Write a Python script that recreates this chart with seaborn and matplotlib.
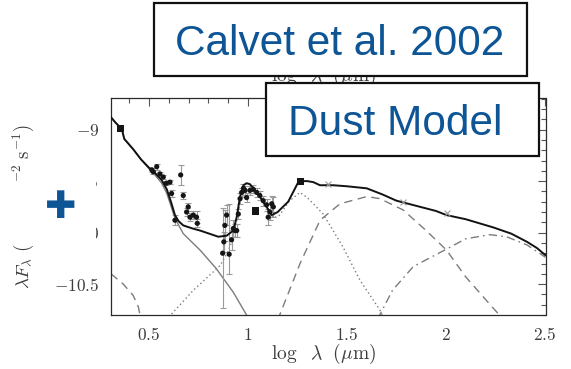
import matplotlib
matplotlib.use("Agg")
import matplotlib.pyplot as plt
import matplotlib.ticker as mticker
from matplotlib.patches import Rectangle
from matplotlib.transforms import Bbox
import numpy as np
import pandas as pd
import seaborn as sns

# ---- model curves: log lambda (um) vs log lambda*F_lambda ----
total_x = [0.308, 0.33, 0.345, 0.358, 0.366, 0.375, 0.42, 0.46, 0.50, 0.53, 0.564, 0.59,
           0.614, 0.631, 0.65, 0.673, 0.72, 0.758, 0.85, 0.892, 0.926, 0.943, 0.96, 0.977,
           0.993, 1.01, 1.027, 1.06, 1.094, 1.12, 1.15, 1.203, 1.23, 1.254, 1.268, 1.30,
           1.33, 1.364, 1.43, 1.50, 1.60, 1.68, 1.75, 1.85, 1.95, 2.003, 2.10, 2.24, 2.33,
           2.41, 2.46, 2.503]
total_y = [-8.88, -8.93, -8.96, -8.99, -9.02, -9.09, -9.19, -9.29, -9.37, -9.42, -9.49, -9.58,
           -9.72, -9.83, -9.89, -9.93, -9.96, -9.98, -10.04, -10.03, -9.98, -9.85, -9.65, -9.54,
           -9.52, -9.53, -9.57, -9.65, -9.75, -9.83, -9.80, -9.70, -9.60, -9.51, -9.50, -9.50,
           -9.51, -9.54, -9.54, -9.55, -9.57, -9.63, -9.69, -9.74, -9.79, -9.83, -9.87, -9.95,
           -10.01, -10.09, -10.15, -10.22]

star_x = [0.308, 0.33, 0.345, 0.358, 0.366, 0.375, 0.42, 0.46, 0.50, 0.53, 0.564, 0.59,
          0.614, 0.631, 0.673, 0.758, 0.84, 0.926, 0.993, 1.005]
star_y = [-8.88, -8.93, -8.96, -8.99, -9.02, -9.09, -9.19, -9.29, -9.38, -9.44, -9.52, -9.62,
          -9.76, -9.86, -10.01, -10.17, -10.35, -10.58, -10.80, -10.84]

wall_x = [0.60, 0.724, 0.859, 0.90, 0.926, 0.96, 0.985, 1.01, 1.04, 1.077, 1.11, 1.128,
          1.16, 1.21, 1.263, 1.30, 1.38, 1.48, 1.565, 1.666, 1.69]
wall_y = [-10.82, -10.56, -10.32, -10.18, -10.05, -9.72, -9.58, -9.56, -9.60, -9.68, -9.80,
          -9.86, -9.83, -9.69, -9.61, -9.66, -9.82, -10.14, -10.46, -10.75, -10.85]

thin_x = [0.308, 0.37, 0.42, 0.446, 0.46]
thin_y = [-10.40, -10.50, -10.61, -10.72, -10.85]

disk_x = [1.15, 1.263, 1.364, 1.465, 1.60, 1.666, 1.784, 1.90, 2.003, 2.10, 2.205, 2.27, 2.29]
disk_y = [-10.85, -10.30, -9.88, -9.72, -9.65, -9.67, -9.78, -9.98, -10.17, -10.43, -10.66,
          -10.80, -10.85]

outer_x = [1.655, 1.73, 1.835, 2.003, 2.10, 2.222, 2.306, 2.41, 2.503]
outer_y = [-10.84, -10.56, -10.33, -10.16, -10.06, -10.02, -10.04, -10.12, -10.24]

# ---- observations ----
obs_x = [0.514, 0.522, 0.539, 0.555, 0.572, 0.588, 0.606, 0.614, 0.631, 0.660, 0.673, 0.690,
         0.698, 0.707, 0.724, 0.740, 0.744, 0.872, 0.878, 0.883, 0.892, 0.905, 0.917, 0.926,
         0.934, 0.943, 0.951, 0.960, 0.968, 0.977, 0.985, 0.993, 1.010, 1.027, 1.044, 1.060,
         1.077, 1.094, 1.102, 1.110, 1.120, 1.128]
obs_y = [-9.39, -9.41, -9.36, -9.43, -9.46, -9.52, -9.51, -9.62, -9.88, -9.44, -9.64, -9.80,
         -9.75, -9.85, -9.83, -9.85, -9.91, -10.20, -10.09, -9.93, -9.83, -10.21, -10.07, -9.96,
         -9.98, -9.98, -9.82, -9.67, -9.61, -9.57, -9.59, -9.66, -9.59, -9.58, -9.61, -9.64,
         -9.69, -9.73, -9.85, -9.80, -9.72, -9.75]
obs_err_lo = [0.02, 0.02, 0.03, 0.02, 0.02, 0.02, 0.02, 0.03, 0.05, 0.10, 0.03, 0.04,
              0.04, 0.04, 0.04, 0.06, 0.04, 0.53, 0.10, 0.15, 0.10, 0.19, 0.10, 0.08,
              0.06, 0.06, 0.05, 0.05, 0.04, 0.04, 0.04, 0.04, 0.04, 0.04, 0.04, 0.04,
              0.05, 0.06, 0.08, 0.08, 0.08, 0.10]
obs_err_hi = [0.02, 0.02, 0.03, 0.02, 0.02, 0.02, 0.02, 0.03, 0.05, 0.10, 0.03, 0.04,
              0.04, 0.04, 0.04, 0.06, 0.04, 0.44, 0.10, 0.15, 0.10, 0.49, 0.10, 0.08,
              0.06, 0.06, 0.05, 0.05, 0.04, 0.04, 0.04, 0.04, 0.04, 0.04, 0.04, 0.04,
              0.05, 0.06, 0.08, 0.08, 0.08, 0.10]

square_x = [0.357, 1.040, 1.266]
square_y = [-8.99, -9.79, -9.50]

cross_x = [1.405, 1.784, 2.003]
cross_y = [-9.53, -9.70, -9.81]

# ---- figure ----
sns.set_style("white")
plt.rcParams["mathtext.fontset"] = "cm"
plt.rcParams["font.family"] = ["DejaVu Serif"]

W, H = 571, 369
fig = plt.figure(figsize=(W / 100, H / 100), dpi=100)
ax = fig.add_axes([111 / W, 1 - 315 / H, 434.5 / W, 217.3 / H])

gray = "#7c7c7c"
line_kw = dict(ax=ax, sort=False, estimator=None, legend=False)
sns.lineplot(x=star_x, y=star_y, color=gray, lw=1.0, **line_kw)
sns.lineplot(x=wall_x, y=wall_y, color=gray, lw=1.0, linestyle=(0, (1, 2)), **line_kw)
sns.lineplot(x=thin_x, y=thin_y, color=gray, lw=1.0, linestyle=(0, (6, 4)), **line_kw)
sns.lineplot(x=disk_x, y=disk_y, color=gray, lw=1.0, linestyle=(0, (6, 4)), **line_kw)
sns.lineplot(x=outer_x, y=outer_y, color=gray, lw=1.0, linestyle=(0, (6, 3, 1.2, 3)), **line_kw)

ax.errorbar(obs_x, obs_y, yerr=[obs_err_lo, obs_err_hi], fmt="none", ecolor="#9a9a9a",
            elinewidth=0.8, capsize=2, capthick=0.8, zorder=3)
sns.lineplot(x=total_x, y=total_y, color="#121212", lw=1.4, zorder=4, **line_kw)
sns.scatterplot(x=obs_x, y=obs_y, color="#151515", s=14, edgecolor="none", ax=ax, zorder=5)
sns.scatterplot(x=square_x, y=square_y, color="#151515", marker="s", s=26, edgecolor="none",
                ax=ax, zorder=5)
sns.scatterplot(x=cross_x, y=cross_y, color="#9a9a9a", marker="x", s=18, linewidth=0.8,
                ax=ax, zorder=5)

ax.set_xlim(0.308, 2.503)
ax.set_ylim(-10.80, -8.69)
ax.xaxis.set_major_locator(mticker.FixedLocator([0.5, 1.0, 1.5, 2.0, 2.5]))
ax.xaxis.set_minor_locator(mticker.MultipleLocator(0.1))
ax.yaxis.set_major_locator(mticker.FixedLocator([-10.5, -10.0, -9.5, -9.0]))
ax.yaxis.set_minor_locator(mticker.MultipleLocator(0.1))
ax.xaxis.set_major_formatter(mticker.FuncFormatter(lambda v, p: f"${v:g}$"))
ax.yaxis.set_major_formatter(mticker.FuncFormatter(lambda v, p: f"${v:g}$"))

ax.tick_params(which="both", direction="in", top=True, right=True, color="#555555",
               width=0.8, labelsize=12.5, labelcolor="#3c3c3c", pad=8.5)
ax.tick_params(which="major", length=6)
ax.tick_params(which="minor", length=3.5)
for s in ax.spines.values():
    s.set_color("#2a2a2a")
    s.set_linewidth(0.9)

xlab = r"$\log\ \ \lambda\ \ (\mu\mathrm{m})$"
ax.set_xlabel(xlab, fontsize=14, color="#3c3c3c")
ax.set_ylabel(r"$\lambda F_\lambda\ (\mathrm{ergs\ cm^{-2}\ s^{-1}})$", fontsize=13.5,
              color="#3c3c3c")
ax.xaxis.set_label_coords(0.488, -0.125)
ax.yaxis.set_label_coords(-0.172, 0.497)

# axis label of the panel above; only its lower edge peeks out between the title boxes
upper = fig.text(323 / W, 1 - 75.5 / H, xlab, fontsize=14,
                 color="#3c3c3c", ha="center", va="center", zorder=1)
upper.set_clip_box(Bbox.from_extents(0, 0, W, H - 76))
upper.set_clip_on(True)

# white patch with the blue plus sign
fig.patches.append(Rectangle((18 / W, 1 - 246 / H), 78 / W, 72 / H, transform=fig.transFigure,
                             facecolor="white", edgecolor="none", zorder=5))
blue = "#0d5595"
fig.text(61 / W, 1 - 208 / H, "\u271a", fontsize=27, color=blue, ha="center", va="center",
         family=["DejaVu Sans"], zorder=6)

# title boxes
for (x0, y0, x1, y1, label, tx) in [(154, 3, 527, 76, "Calvet et al. 2002", 340),
                                     (266, 83, 539, 156, "Dust Model", 395)]:
    fig.patches.append(Rectangle((x0 / W, 1 - y1 / H), (x1 - x0) / W, (y1 - y0) / H,
                                 transform=fig.transFigure, facecolor="white",
                                 edgecolor="#111111", linewidth=1.6, zorder=10))
    fig.text(tx / W, 1 - (y0 + y1) / 2 / H, label, fontsize=30.5, color=blue,
             family=["Liberation Sans"], ha="center", va="center_baseline", zorder=11)

fig.savefig("out.png", dpi=100)
